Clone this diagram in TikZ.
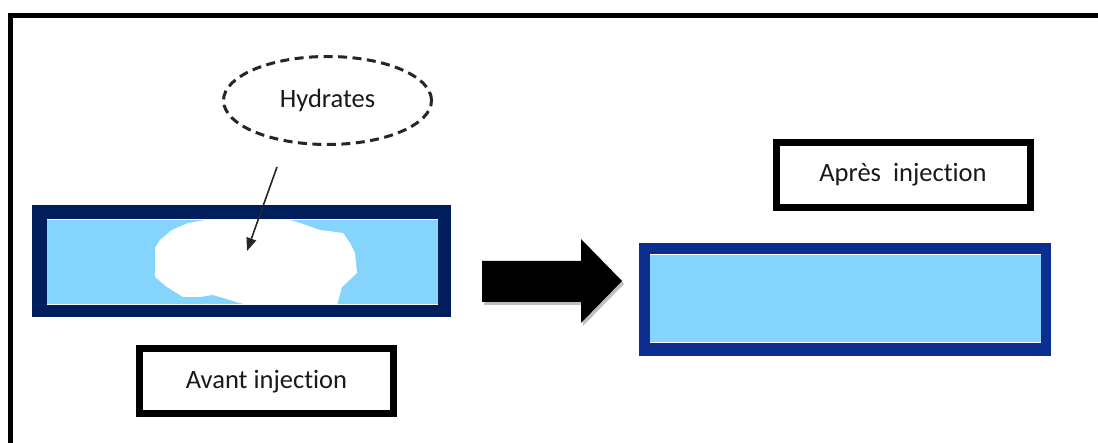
\documentclass[tikz,border=0pt]{standalone}
\usepackage{fontspec}
\setmainfont[Ligatures=NoCommon]{Carlito}
\usetikzlibrary{arrows.meta,shapes.geometric}
\definecolor{navyL}{HTML}{001D5C}
\definecolor{navyR}{HTML}{0B2E90}
\definecolor{water}{HTML}{84D4FC}
\tikzset{
  lbl/.style={font=\fontsize{26.5}{30}\selectfont, text=black!90},
  labelbox/.style={lbl, draw=black, line width=7pt, fill=white, minimum width=254pt, minimum height=65pt, inner sep=0pt},
  hydell/.style={lbl, ellipse, draw=black!85, line width=3pt, dash pattern=on 9pt off 5.5pt, minimum width=208pt, minimum height=88pt, inner sep=0pt},
  pointer/.style={draw=black!85, line width=1.6pt, -{Triangle[length=13pt,width=10pt]}},
}
\begin{document}
\begin{tikzpicture}[x=1pt,y=-1pt]
\useasboundingbox (0,0) rectangle (1098,443);
\fill[white] (0,0) rectangle (1098,443);
% outer frame
\draw[line width=5pt] (10.5,443) -- (10.5,15.5) -- (1098,15.5);

% left tube (before injection)
\fill[navyL] (32,205) rectangle (451,317);
\fill[water] (47,219) rectangle (438,305);
\draw[white, line width=1pt] (47,219.5) -- (438,219.5);
\draw[white, line width=1pt] (47,304.5) -- (438,304.5);
% hydrate plug
\fill[white] (205,220) -- (188,223) -- (172,230) -- (160,240) -- (155,248) -- (155,277) -- (167,287)
  -- (183,297) -- (200,297) -- (213,295) -- (240,303) -- (247,305) -- (337,305)
  -- (342,287) -- (357,273) -- (355,253) -- (350,243) -- (343,233) -- (320,230)
  -- (300,223) -- (290,220) -- cycle;

% hydrates label
\node[hydell] (hyd) at (327.5,100.5) {Hydrates};
\coordinate (p1) at (277,167);
\coordinate (p2) at (247,251);
\draw[pointer] (p1) -- (p2);

% label boxes
\node[labelbox] (avant) at (266.5,381.5) {Avant injection};
\node[labelbox] (apres) at (903,175) {Après\ \ injection};

% big arrow with soft shadow
\fill[black, opacity=0.25] (484,264) -- (583,264) -- (583,242) -- (624,284) -- (583,326) -- (583,305) -- (484,305) -- cycle;
\fill[black] (482,261) -- (581,261) -- (581,239) -- (622,281) -- (581,323) -- (581,302) -- (482,302) -- cycle;

% right tube (after injection)
\fill[navyR] (639,243) rectangle (1051,356);
\fill[water] (650,254) rectangle (1041,343);
\draw[white, line width=1pt] (650,254.5) -- (1041,254.5);
\draw[white, line width=1pt] (650,342.5) -- (1041,342.5);
\end{tikzpicture}
\end{document}
